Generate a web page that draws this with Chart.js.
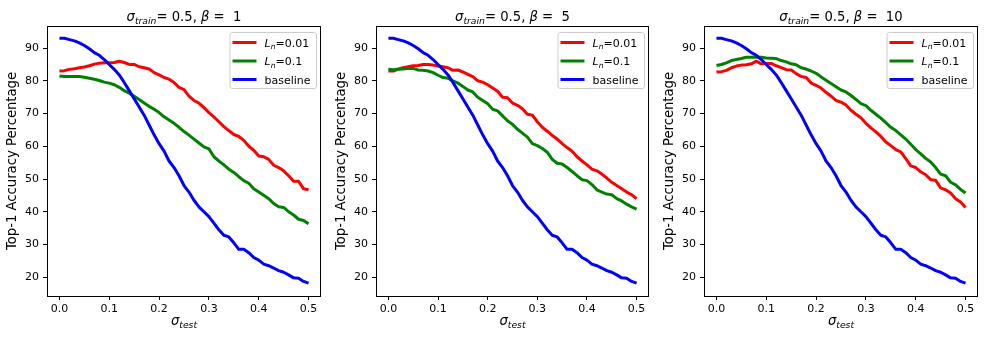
<!DOCTYPE html>
<html>
<head>
<meta charset="utf-8">
<title>Top-1 accuracy vs sigma_test</title>
<script src="https://cdn.jsdelivr.net/npm/chart.js"></script>
<style>
  body { margin: 0; background: #fff; }
  .wrap { position: relative; width: 988px; height: 339px; overflow: hidden; }
  .wrap canvas { position: absolute; top: 0; }
</style>
</head>
<body>
<div class="wrap">
  <canvas id="c0" width="330" height="339" style="left:0px"></canvas>
  <canvas id="c1" width="329" height="339" style="left:329px"></canvas>
  <canvas id="c2" width="330" height="339" style="left:657px"></canvas>
</div>
<script>
const sigmaTest = [0.00, 0.01, 0.02, 0.03, 0.04, 0.05, 0.06, 0.07, 0.08, 0.09,
  0.10, 0.11, 0.12, 0.13, 0.14, 0.15, 0.16, 0.17, 0.18, 0.19,
  0.20, 0.21, 0.22, 0.23, 0.24, 0.25, 0.26, 0.27, 0.28, 0.29,
  0.30, 0.31, 0.32, 0.33, 0.34, 0.35, 0.36, 0.37, 0.38, 0.39,
  0.40, 0.41, 0.42, 0.43, 0.44, 0.45, 0.46, 0.47, 0.48, 0.49, 0.50];
const xTicks = [0.0, 0.1, 0.2, 0.3, 0.4, 0.5];
const yTicks = [20, 30, 40, 50, 60, 70, 80, 90];
const betas = [1, 5, 10];

// baseline is the same run in all three panels
const baseline = [93.0, 93.0, 92.6, 92.2, 91.6, 90.8, 89.8, 88.6, 87.8, 86.5,
  85.0, 83.5, 81.8, 79.5, 77.0, 74.5, 72.0, 69.5, 66.5, 63.5,
  60.8, 58.5, 55.5, 53.5, 51.0, 48.0, 46.0, 43.5, 41.5, 40.0,
  38.5, 36.5, 34.5, 32.8, 32.3, 30.5, 28.5, 28.5, 27.5, 26.0,
  25.2, 24.0, 23.5, 22.8, 22.0, 21.5, 20.7, 19.8, 19.7, 18.7, 18.2];

const ln001B1 = [83.0, 83.1, 83.5, 83.7, 84.0, 84.2, 84.6, 85.1, 85.4, 85.5,
  85.5, 85.6, 86.0, 85.6, 85.0, 85.0, 84.3, 84.0, 83.6, 82.5,
  81.8, 81.0, 80.5, 79.5, 78.0, 77.3, 75.3, 74.0, 73.2, 71.8,
  70.3, 69.0, 67.5, 66.0, 64.8, 63.6, 63.0, 61.8, 60.0, 58.8,
  57.0, 56.8, 56.0, 54.2, 53.5, 52.5, 51.0, 49.3, 49.3, 47.0, 46.7];
const ln01B1 = [81.5, 81.3, 81.3, 81.3, 81.3, 81.1, 80.8, 80.5, 80.1, 79.6,
  79.3, 78.8, 78.0, 77.0, 76.2, 75.3, 74.3, 73.2, 72.2, 71.3,
  70.3, 69.0, 68.0, 67.0, 65.8, 64.5, 63.4, 62.2, 61.0, 59.8,
  59.2, 56.8, 55.5, 54.3, 53.0, 52.0, 50.7, 49.5, 48.7, 47.0,
  46.0, 45.0, 44.0, 42.5, 41.5, 41.3, 40.0, 39.0, 37.7, 37.3, 36.3];

const ln001B5 = [83.0, 83.0, 83.6, 84.0, 84.3, 84.6, 84.7, 85.0, 85.0, 84.8,
  84.5, 84.3, 84.0, 83.2, 83.3, 82.7, 82.0, 81.3, 80.0, 79.6,
  78.8, 77.8, 76.8, 75.0, 74.8, 73.2, 72.5, 71.5, 69.8, 69.5,
  67.5, 65.8, 64.6, 63.3, 62.2, 60.8, 59.6, 58.5, 56.8, 55.5,
  54.3, 53.0, 52.5, 51.5, 50.3, 49.0, 48.0, 47.0, 46.0, 45.2, 44.0];
const ln01B5 = [83.5, 83.4, 83.5, 83.6, 83.8, 83.8, 83.3, 83.2, 83.0, 82.5,
  81.7, 81.0, 80.8, 80.0, 79.3, 78.3, 77.2, 76.6, 75.0, 74.0,
  73.0, 71.3, 70.8, 69.3, 67.8, 66.7, 65.2, 64.0, 62.8, 60.8,
  60.2, 59.3, 58.2, 56.0, 54.8, 54.6, 53.5, 52.3, 51.0, 49.8,
  49.5, 48.3, 46.7, 46.0, 45.4, 45.2, 44.0, 43.3, 42.3, 41.5, 40.8];

const ln001B10 = [82.7, 82.8, 83.2, 84.0, 84.5, 84.8, 84.9, 85.2, 86.0, 85.2,
  85.3, 85.3, 84.6, 84.0, 83.4, 83.3, 82.2, 81.3, 81.0, 79.3,
  78.6, 77.8, 76.5, 75.3, 74.0, 73.5, 72.6, 71.0, 69.8, 68.7,
  67.0, 65.6, 64.4, 63.0, 61.3, 60.2, 59.0, 58.3, 56.2, 54.0,
  53.5, 52.2, 51.3, 49.8, 49.6, 47.3, 46.7, 45.7, 44.0, 43.0, 41.3];
const ln01B10 = [84.7, 85.0, 85.5, 86.2, 86.5, 86.8, 87.2, 87.2, 87.3, 87.2,
  87.0, 86.9, 86.8, 86.2, 85.8, 85.2, 84.9, 84.0, 83.6, 83.0,
  82.3, 81.2, 80.2, 79.2, 78.2, 77.2, 76.6, 75.5, 74.3, 73.0,
  72.4, 71.0, 69.8, 68.6, 67.2, 65.8, 64.8, 63.5, 62.2, 60.6,
  59.0, 57.7, 56.3, 55.2, 53.5, 51.5, 51.0, 49.0, 48.2, 46.8, 45.7];

const panelSeries = [
  [ln001B1, ln01B1, baseline],
  [ln001B5, ln01B5, baseline],
  [ln001B10, ln01B10, baseline],
];
const seriesNames = ["L_n=0.01", "L_n=0.1", "baseline"];
const seriesColors = ["#ff0000", "#008000", "#0000ff"];

const FONT = '"DejaVu Sans", sans-serif';

// matplotlib-style mathtext: pieces of text, some italic, some subscripted
function drawRich(ctx, parts, x, y, size, align) {
  const fontOf = (p) => `${p.it ? "italic " : ""}${p.sub ? size * 0.7 : size}px ${FONT}`;
  let total = 0;
  const widths = parts.map((p) => {
    ctx.font = fontOf(p);
    const w = ctx.measureText(p.t).width;
    total += w;
    return w;
  });
  let cx = align === "center" ? x - total / 2 : x;
  ctx.textAlign = "left";
  ctx.textBaseline = "alphabetic";
  parts.forEach((p, i) => {
    ctx.font = fontOf(p);
    ctx.fillText(p.t, cx, y + (p.sub ? size * 0.24 : 0));
    cx += widths[i];
  });
}

const legendParts = [
  [{ t: "L", it: 1 }, { t: "n", it: 1, sub: 1 }, { t: "=0.01" }],
  [{ t: "L", it: 1 }, { t: "n", it: 1, sub: 1 }, { t: "=0.1" }],
  [{ t: "baseline" }],
];

const mplDecor = {
  id: "mplDecor",
  afterDatasetsDraw(chart) {
    const { ctx, chartArea: a } = chart;
    ctx.save();
    // axes frame
    ctx.strokeStyle = "#000";
    ctx.lineWidth = 1;
    ctx.strokeRect(a.left + 0.5, a.top + 0.5, a.right - a.left - 1, a.bottom - a.top);

    // legend, upper right
    const bw = 86.5, bh = 56;
    const bx = a.right - 5 - bw, by = a.top + 6;
    ctx.beginPath();
    ctx.roundRect(bx + 0.5, by + 0.5, bw, bh, 2.5);
    ctx.fillStyle = "rgba(255,255,255,0.8)";
    ctx.fill();
    ctx.strokeStyle = "#cccccc";
    ctx.stroke();
    const rows = [16.5, 35, 53.5];
    rows.forEach((ry, i) => {
      const yy = a.top + ry;
      ctx.strokeStyle = seriesColors[i];
      ctx.lineWidth = 3;
      ctx.beginPath();
      ctx.moveTo(bx + 3, yy);
      ctx.lineTo(bx + 27, yy);
      ctx.stroke();
      ctx.fillStyle = "#000";
      drawRich(ctx, legendParts[i], bx + 35, yy + 4, 11, "left");
    });
    ctx.restore();
  },
  afterDraw(chart, args, opts) {
    const { ctx, chartArea: a } = chart;
    const mid = (a.left + a.right) / 2;
    ctx.save();
    ctx.fillStyle = "#000";
    drawRich(ctx, [
      { t: "σ", it: 1 }, { t: "train", it: 1, sub: 1 }, { t: "= 0.5, " },
      { t: "β", it: 1 }, { t: " =  " + opts.beta },
    ], mid, 20.5, 13.2, "center");
    drawRich(ctx, [{ t: "σ", it: 1 }, { t: "test", it: 1, sub: 1 }], mid, 325, 13.2, "center");
    ctx.restore();
  },
};

betas.forEach((beta, p) => {
  const datasets = panelSeries[p].map((vals, i) => ({
    label: seriesNames[i],
    data: sigmaTest.map((x, k) => ({ x, y: vals[k] })),
    borderColor: seriesColors[i],
    borderWidth: 3,
    borderJoinStyle: "round",
    borderCapStyle: "butt",
    pointRadius: 0,
    tension: 0,
    order: 2 - i,
  }));

  new Chart(document.getElementById("c" + p), {
    type: "line",
    data: { datasets },
    plugins: [mplDecor],
    options: {
      responsive: false,
      animation: false,
      events: [],
      layout: { padding: { left: 0, right: 9, top: 26, bottom: 0 } },
      plugins: {
        legend: { display: false },
        title: { display: false },
        tooltip: { enabled: false },
        mplDecor: { beta },
      },
      scales: {
        x: {
          type: "linear",
          min: -0.025,
          max: 0.525,
          afterBuildTicks: (s) => { s.ticks = xTicks.map((v) => ({ value: v })); },
          afterFit: (s) => { s.height = 43; },
          ticks: {
            color: "#000",
            font: { family: FONT, size: 11 },
            padding: 3,
            maxRotation: 0,
            callback: (v) => Number(v).toFixed(1),
          },
          grid: { display: true, drawOnChartArea: false, drawTicks: true, tickLength: 4, color: "#000" },
          border: { display: false },
        },
        y: {
          min: 14.25,
          max: 96.75,
          afterBuildTicks: (s) => { s.ticks = yTicks.map((v) => ({ value: v })); },
          afterFit: (s) => { s.width = 47; },
          ticks: {
            color: "#000",
            font: { family: FONT, size: 11 },
            padding: 4,
            callback: (v) => String(v),
          },
          grid: { display: true, drawOnChartArea: false, drawTicks: true, tickLength: 4, color: "#000" },
          border: { display: false },
          title: {
            display: true,
            text: "Top-1 Accuracy Percentage",
            color: "#000",
            font: { family: FONT, size: 13.2 },
            padding: { top: 5, bottom: 0 },
          },
        },
      },
    },
  });
});
</script>
</body>
</html>
